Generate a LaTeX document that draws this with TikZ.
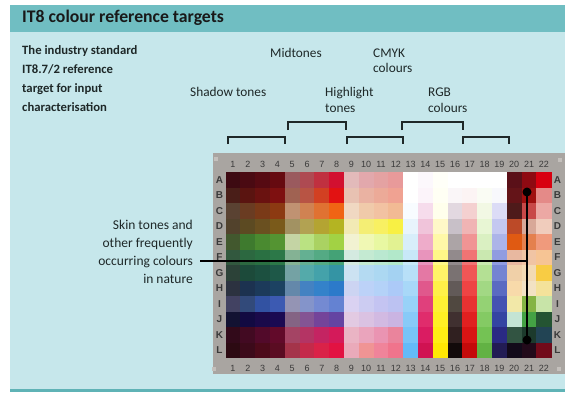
\documentclass[tikz,border=0pt]{standalone}
\usepackage{fontspec}
\setmainfont{Carlito}
\newfontfamily\chartfont{Liberation Sans}
\definecolor{panel}{HTML}{C6E7EB}
\definecolor{header}{HTML}{70BEC2}
\definecolor{bottomline}{HTML}{5FB3B6}
\definecolor{framegray}{HTML}{A9A5A1}
\definecolor{marklight}{HTML}{C4C0BC}
\definecolor{ink}{HTML}{1E2828}
\definecolor{chartink}{HTML}{3A3A3A}
\newcommand\patchrow[2]{%
  \foreach \hx [count=\ci from 0] in {#2}{%
    \definecolor{pc}{HTML}{\hx}%
    \fill[pc] ({225.6+\ci*14.8},{172+#1*15.5}) rectangle ++(15.2,15.9);}}
\tikzset{
  lab/.style={font=\fontsize{13.3}{15}\selectfont, text=ink, inner sep=0, anchor=base west},
  boldlab/.style={font=\fontsize{12.7}{19}\selectfont\bfseries, text=ink, inner sep=0, anchor=base west},
  numlab/.style={font=\chartfont\fontsize{9}{10}\selectfont, text=chartink, inner sep=0, anchor=base},
  rowlab/.style={font=\chartfont\fontsize{10}{10}\selectfont\bfseries, text=chartink, inner sep=0, anchor=center},
  bracket/.style={draw=ink, line width=2pt},
  conn/.style={draw=black, line width=1.8pt},
  dot/.style={circle, fill=black, inner sep=0, minimum size=9pt}
}
\begin{document}
\begin{tikzpicture}[x=1pt,y=-1pt]
\useasboundingbox (0,0) rectangle (565,392);
\fill[white] (0,0) rectangle (565,392);
\fill[panel] (10,5) rectangle (565,390);
\fill[header] (10,5) rectangle (565,32);
\fill[bottomline] (10,389) rectangle (565,392);
% title
\node[font=\fontsize{17.7}{20}\selectfont\bfseries, text=black!90, inner sep=0, anchor=base west] (title) at (22,22) {IT8 colour reference targets};
% left description
\node[boldlab] (d1) at (22,54) {The industry standard};
\node[boldlab] (d2) at (22,73) {IT8.7/2 reference};
\node[boldlab] (d3) at (22,92) {target for input};
\node[boldlab] (d4) at (22,111) {characterisation};
% top labels
\node[lab] (mid) at (270,57) {Midtones};
\node[lab] (cmyk1) at (373,57) {CMYK};
\node[lab] (cmyk2) at (373,72) {colours};
\node[lab] (shadow) at (190,96) {Shadow tones};
\node[lab] (hi1) at (325,96) {Highlight};
\node[lab] (hi2) at (325,112) {tones};
\node[lab] (rgb1) at (428,96) {RGB};
\node[lab] (rgb2) at (428,112) {colours};
% brackets
\draw[bracket] (228,144) -- (228,137) -- (285,137) -- (285,144);
\draw[bracket] (288,130) -- (288,122) -- (346,122) -- (346,130);
\draw[bracket] (347,144) -- (347,137) -- (403,137) -- (403,144);
\draw[bracket] (402,130) -- (402,122) -- (463,122) -- (463,130);
\draw[bracket] (463,144) -- (463,137) -- (509,137) -- (509,144);
% chart frame
\fill[framegray] (213,153) rectangle (565,374);
\fill[marklight] (214,157) rectangle (218,161);
\fill[marklight] (212,367) rectangle (216,371);
\fill[marklight] (558,158) rectangle (562,162);
\fill[marklight] (557,367) rectangle (561,371);
% patches
\patchrow{0}{3D0A12,4A0A12,560A12,660A10,9A5A5E,AE4A52,C03040,D21030,E2BABA,E2A8AC,E4A2A2,E89A9A,FFFFFF,FCF8FC,FFFFF8,FFFFFF,FFFFFF,FFFFFF,FFFFFF,5A1018,8E0A12,D80010}
\patchrow{1}{4A1E18,5A1410,6A1210,7E1010,A06252,B85444,D24022,E21212,E8C2B2,EAB2A2,ECAA98,F0A292,FFFFFF,FCF4FA,FFFFF4,FAF6F8,FCF4F4,FAFCF4,F8F8FC,641418,A01010,E48A88}
\patchrow{2}{5A4232,6A3C22,7A3A18,8C3A12,C09272,D08252,E07232,F06414,F0D8C2,F0CAAA,F2C2A2,F2BA94,F8FCFF,F6DCEC,FFFFEC,E2D8E0,F4D0D0,F2F8E4,DCDCF6,4E1A1A,C84848,ECA8A4}
\patchrow{3}{52422C,5C4A22,6A5020,7A5A1A,A29262,B2A252,B4A432,B4B422,F2EAB4,F4EE74,F8F062,F8F044,E8F4FC,F0C4DA,FFF8C8,C8C0C8,F0B4B4,E8F6D4,C4C8F0,BC4A28,D8A898,F0CCBC}
\patchrow{4}{42582E,3E7A2E,4A8A30,549432,C4D4A4,BAE282,AAD262,A2D244,F2F2D2,F0F8B4,E8F8A2,E2F292,D8EEFA,EEACCA,FFF8A8,ACA4A6,F09494,DAF0C2,ACB4E8,E05A12,E4804E,F09A7C}
\patchrow{5}{32583E,2C6840,2A7042,2C7848,84B294,64B092,54AA84,44A276,D4EAE0,C4EAD2,BAE8D0,B2E8CA,C8E8F8,E894BC,FFF888,928A8C,F07474,CAE8B0,909CE0,E8B8A0,F0C4A4,F6C494}
\patchrow{6}{2C4238,1C4A3A,1C5040,1E5848,74A2A4,54AAAA,44A2AA,3494A4,CCE2F2,B4DAF2,ACD8F2,A4D2F2,B8E0F8,E478A4,FFF468,7A7272,F05656,B4E094,7484D2,F0D0A8,F2DAB4,F8CC44}
\patchrow{7}{2C3240,1C3250,1C3A5A,1C4262,6488AA,4482C2,3482CA,2C7ACA,CCD4F2,BCD2F8,B4D2F8,ACCAF8,A8D8F8,E0588C,FFF048,625A58,EE4444,A2D884,5A6AC2,F8DAAA,F2E2C4,F4E29A}
\patchrow{8}{424262,324A7A,3252A2,3C5AB2,9494B4,8494CA,748AD2,6482D2,DAD2F2,CCCCF2,C4C4F2,BCC2F2,98D2F8,E0407C,FFF034,504840,E83232,94D274,4452B2,F2E8A8,84B444,C8E4A8}
\patchrow{9}{121232,120A42,1A0A4A,1A0A52,846484,845494,74449A,6444A2,E2CAE2,DAC2E2,D2BAE2,CAB4E2,88CAF8,E02C6C,FFF024,403030,E02020,84CA64,3444A2,C4E4D4,44A244,245432}
\patchrow{10}{320A1A,420A22,520A2A,620A2A,A44464,B43464,C42462,D41A5A,EAB4C4,EAA4BC,EA94B2,EA849C,78C4F8,DA1C62,FFEE14,302020,D81414,74C254,2A2A84,325442,1C3A2C,224454}
\patchrow{11}{2C0A12,3C0A1A,4C0A1A,5A0C22,A4344A,C42A4A,DA2248,E21242,EAAABA,F09494,F0849A,F0748C,64BAF8,D01252,FFE804,120A0A,C40A0A,62B244,221C54,120A1A,220A1A,720A1A}
% column numbers
\foreach \i in {1,...,22}{
  \node[numlab] (ntop\i) at ({225.6+(\i-0.5)*14.8},167) {\i};
  \node[numlab] (nbot\i) at ({225.6+(\i-0.5)*14.8},371) {\i};
}
% row letters
\foreach \l [count=\k from 0] in {A,B,C,D,E,F,G,H,I,J,K,L}{
  \node[rowlab] (rleft\l) at (219.5,{172+(\k+0.5)*15.5}) {\l};
  \node[rowlab] (rright\l) at (557.5,{172+(\k+0.5)*15.5}) {\l};
}
% skin tones label and connector
\node[font=\fontsize{13.5}{18}\selectfont, text=ink, inner sep=0, align=right, anchor=north east] (skin) at (193,220) {Skin tones and\\other frequently\\occurring colours\\in nature};
\node[dot] (dotT) at (527,192) {};
\node[dot] (dotB) at (527,340) {};
\coordinate (skinEnd) at (200,261);
\coordinate (corner) at (527,261);
\draw[conn] (skinEnd) -- (corner);
\draw[conn] (dotT.center) -- (dotB.center);
\end{tikzpicture}
\end{document}
